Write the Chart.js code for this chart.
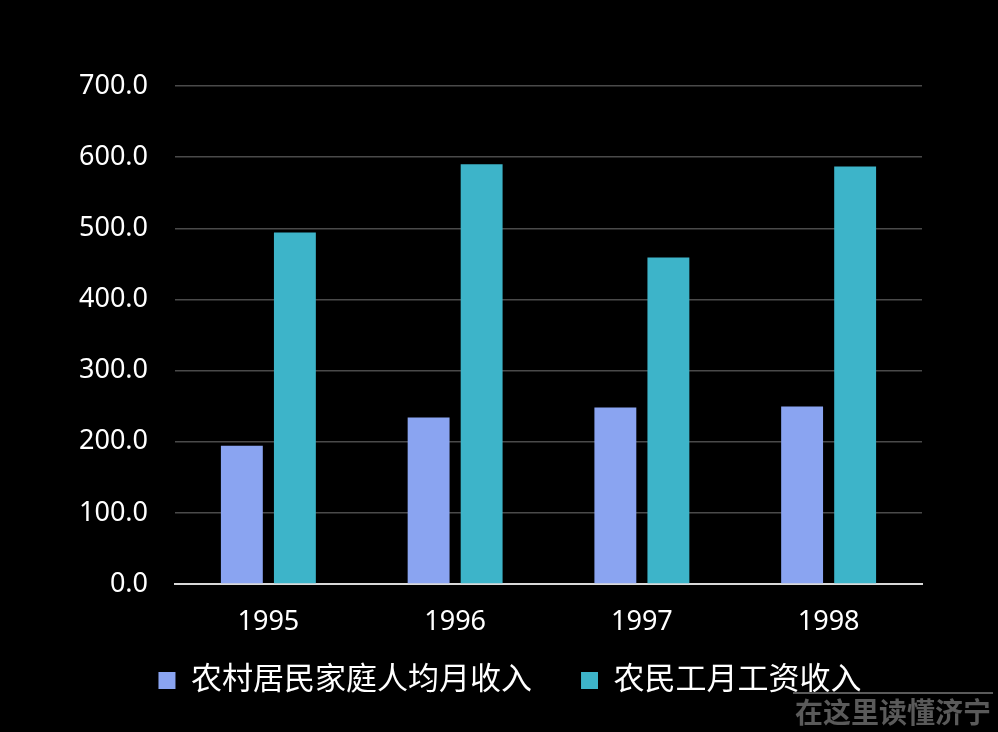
<!DOCTYPE html>
<html>
<head>
<meta charset="utf-8">
<script src="https://cdn.jsdelivr.net/npm/chart.js@4"></script>
<style>
  html, body { margin: 0; padding: 0; background: #000; }
  #wrap { width: 998px; height: 732px; }
</style>
</head>
<body>
<div id="wrap"><canvas id="chart" width="998" height="732"></canvas></div>
<script>
const YEARS = ['1995', '1996', '1997', '1998'];
const RURAL_INCOME = [194.5, 234, 248, 249.5];
const MIGRANT_WAGE = [494, 590, 459, 587];
const SERIES_NAMES = ['农村居民家庭人均月收入', '农民工月工资收入'];
const Y_MIN = 0;
const Y_MAX = 700;
const Y_STEP = 100;

const FONT = "'Noto Sans', 'Noto Sans CJK SC', sans-serif";
const LAVENDER = '#8aa4f1';
const TEAL = '#3db4c9';

// let the y labels spill into the left padding so the legend stays centred like the original
const widenYLabels = {
  id: 'widenYLabels',
  afterLayout: chart => {
    chart.scales.y.left = 70;
  },
};

// watermark in the corner of the source image
const watermark = {
  id: 'watermark',
  afterDraw: chart => {
    const ctx = chart.ctx;
    ctx.save();
    ctx.fillStyle = '#5a5a5a';
    ctx.fillRect(793, 692, 200, 2);
    ctx.font = "bold 28px 'Noto Sans CJK SC'";
    ctx.textBaseline = 'middle';
    ctx.textAlign = 'left';
    ctx.fillText('在这里读懂济宁', 795, 712);
    ctx.restore();
  },
};

const ctx = document.getElementById('chart');
new Chart(ctx, {
  type: 'bar',
  data: {
    labels: YEARS,
    datasets: [
      { label: SERIES_NAMES[0], data: RURAL_INCOME, backgroundColor: LAVENDER },
      { label: SERIES_NAMES[1], data: MIGRANT_WAGE, backgroundColor: TEAL },
    ],
  },
  plugins: [widenYLabels, watermark],
  options: {
    responsive: false,
    animation: false,
    categoryPercentage: 0.568,
    barPercentage: 0.79,
    layout: {
      padding: { left: 98, right: 76, top: 86, bottom: 26 },
    },
    plugins: {
      tooltip: { enabled: false },
      legend: {
        position: 'bottom',
        labels: {
          color: '#fff',
          boxWidth: 17,
          boxHeight: 17,
          padding: 10,
          font: { size: 31, family: FONT },
          generateLabels: chart => {
            const items = Chart.defaults.plugins.legend.labels.generateLabels(chart);
            // wider gap between the two entries, as in the original
            return items.map((item, i) => i < items.length - 1 ? { ...item, text: item.text + '\u3000 ' } : item);
          },
        },
      },
    },
    scales: {
      x: {
        afterFit: scale => { scale.height = 71; },
        grid: { display: false, drawTicks: false },
        border: { display: true, color: '#d9d9d9', width: 2 },
        ticks: {
          color: '#fff',
          padding: 22,
          font: { size: 27, family: FONT },
        },
      },
      y: {
        min: Y_MIN,
        max: Y_MAX,
        afterFit: scale => { scale.width = 77; },
        grid: {
          drawTicks: false,
          lineWidth: 1.5,
          color: c => c.tick.value === 0 ? '#d9d9d9' : '#4a4a4a',
        },
        border: { display: false },
        ticks: {
          stepSize: Y_STEP,
          color: '#fff',
          padding: 27,
          font: { size: 27, family: FONT },
          callback: value => Number(value).toFixed(1),
        },
      },
    },
  },
});
</script>
</body>
</html>
